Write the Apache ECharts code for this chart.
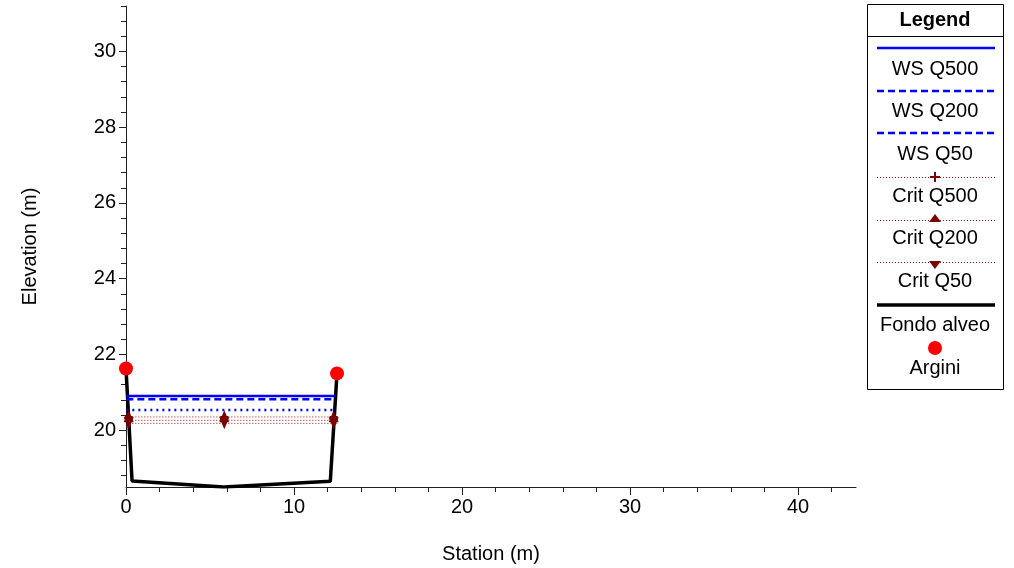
<!DOCTYPE html>
<html><head><meta charset="utf-8">
<script src="https://cdn.jsdelivr.net/npm/echarts@6/dist/echarts.min.js"></script>
<style>html,body{margin:0;padding:0;background:#fff}#c{width:1014px;height:568px}</style>
</head><body><div id="c"></div>
<script>
// ---- data ----
const fondoStation = [0, 0.36, 5.81, 12.16, 12.56];
const fondoElev    = [21.63, 18.66, 18.5, 18.65, 21.5];
const arginiStation = [0, 12.56];
const arginiElev    = [21.63, 21.5];
const wsStation = [0.02, 12.48];
const wsQ500 = 20.9;
const wsQ200 = 20.82;
const wsQ50  = 20.53;
const critStation = [0.02, 0.16, 5.85, 12.36, 12.6];
const critMarkerIdx = [1, 2, 3];
const critQ500 = 20.35;
const critQ200 = 20.26;
const critQ50  = 20.18;
const xMajorTicks = [0, 10, 20, 30, 40];
const xMinorTicks = [2, 4, 6, 8, 12, 14, 16, 18, 22, 24, 26, 28, 32, 34, 36, 38, 42];
const yMajorTicks = [20, 22, 24, 26, 28, 30];
const yMinorTicks = [18.8, 19.2, 19.6, 20.4, 20.8, 21.2, 21.6, 22.4, 22.8, 23.2, 23.6, 24.4, 24.8, 25.2, 25.6, 26.4, 26.8, 27.2, 27.6, 28.4, 28.8, 29.2, 29.6, 30.4, 30.8, 31.2];
const legendNames = ['WS Q500','WS Q200','WS Q50','Crit Q500','Crit Q200','Crit Q50','Fondo alveo','Argini'];

const chart = echarts.init(document.getElementById('c'));
const FONT = 'Liberation Sans, Arial, sans-serif';
const FS = 20;
const AX = '#222';
const xMin = 0, xMax = 43.45, yMin = 18.5, yMax = 31.2;
const PLUS = 'path://M-1,-4L1,-4L1,-1L4,-1L4,1L1,1L1,4L-1,4L-1,1L-4,1L-4,-1L-1,-1Z';
const TRI_UP = 'path://M0,-5L5,5L-5,5Z';
const TRI_DOWN = 'path://M-5,-5L5,-5L0,5Z';

function pairs(xs, ys){ return xs.map((x,i)=>[x, ys[i]]); }
function hline(xs, y){ return xs.map(x=>[x, y]); }
function critData(y, sym, size, off){
  return critStation.map((x,i)=>{
    const on = critMarkerIdx.indexOf(i) >= 0;
    return {value:[x,y], symbol: on ? sym : 'none', symbolSize: size, symbolOffset: off};
  });
}

const xBase = {type:'value', min:xMin, max:xMax, splitLine:{show:false}};
const yBase = {type:'value', min:yMin, max:yMax, splitLine:{show:false}};

function txt(name, y, bold){
  return {type:'text', x:935, y:y, z:11,
    style:{text:name, font:(bold?'bold ':'')+FS+'px '+FONT, fill:'#000', align:'center', verticalAlign:'middle'}};
}
function lline(y, stroke, w, dash){
  const s = {stroke:stroke, lineWidth:w};
  if (dash) s.lineDash = dash;
  return {type:'line', shape:{x1:877, y1:y, x2:995, y2:y}, style:s, z:11};
}

const option = {
  animation:false,
  backgroundColor:'#fff',
  grid:{left:126, right:158, top:6, bottom:81, containLabel:false, outerBoundsMode:'none'},
  xAxis:[
    Object.assign({}, xBase, {
      name:'Station (m)', nameLocation:'middle', nameGap:57,
      nameTextStyle:{color:'#000', fontSize:FS, fontFamily:FONT},
      axisLine:{show:true, onZero:false, lineStyle:{color:AX, width:1}},
      axisTick:{show:true, customValues:xMajorTicks, length:8, lineStyle:{color:AX}},
      axisLabel:{show:true, customValues:xMajorTicks, margin:10, color:'#000', fontSize:FS, fontFamily:FONT}
    }),
    Object.assign({}, xBase, {
      position:'bottom',
      axisLine:{show:false},
      axisTick:{show:true, customValues:xMinorTicks, length:5, lineStyle:{color:AX}},
      axisLabel:{show:false}
    })
  ],
  yAxis:[
    Object.assign({}, yBase, {
      name:'Elevation (m)', nameLocation:'middle', nameGap:86, nameRotate:90,
      nameTextStyle:{color:'#000', fontSize:FS, fontFamily:FONT},
      axisLine:{show:true, onZero:false, lineStyle:{color:AX, width:1}},
      axisTick:{show:true, customValues:yMajorTicks, length:7, lineStyle:{color:AX}},
      axisLabel:{show:true, customValues:yMajorTicks, margin:10, color:'#000', fontSize:FS, fontFamily:FONT}
    }),
    Object.assign({}, yBase, {
      position:'left',
      axisLine:{show:false},
      axisTick:{show:true, customValues:yMinorTicks, length:5, lineStyle:{color:AX}},
      axisLabel:{show:false}
    })
  ],
  series:[
    {name:legendNames[6], type:'line', data:pairs(fondoStation, fondoElev), symbol:'none',
     lineStyle:{color:'#000', width:3.5}, z:3},
    {name:legendNames[0], type:'line', data:hline(wsStation, wsQ500), symbol:'none',
     lineStyle:{color:'#0000ff', width:2.5, type:'solid'}, z:4},
    {name:legendNames[1], type:'line', data:hline(wsStation, wsQ200), symbol:'none',
     lineStyle:{color:'#0000ff', width:2.5, type:[7,4]}, z:4},
    {name:legendNames[2], type:'line', data:hline(wsStation, wsQ50), symbol:'none',
     lineStyle:{color:'#0000ff', width:2.5, type:[2,4]}, z:4},
    {name:legendNames[3], type:'line', data:critData(critQ500, PLUS, 8, [0,0]),
     lineStyle:{color:'#a01010', width:1, type:[1,2]}, itemStyle:{color:'#7a0000'}, z:5},
    {name:legendNames[4], type:'line', data:critData(critQ200, TRI_UP, [10,12], [0,-4]),
     lineStyle:{color:'#a01010', width:1, type:[1,2]}, itemStyle:{color:'#7a0000'}, z:5},
    {name:legendNames[5], type:'line', data:critData(critQ50, TRI_DOWN, [10,12], [0,0]),
     lineStyle:{color:'#a01010', width:1, type:[1,2]}, itemStyle:{color:'#7a0000'}, z:5},
    {name:legendNames[7], type:'scatter', data:pairs(arginiStation, arginiElev), symbol:'circle', symbolSize:14,
     itemStyle:{color:'#ff0000', opacity:1}, z:6}
  ],
  graphic:[
    {type:'rect', shape:{x:867.5, y:4.5, width:136, height:385}, style:{fill:'#fff', stroke:'#000', lineWidth:1}, z:10},
    {type:'line', shape:{x1:867.5, y1:36.5, x2:1003.5, y2:36.5}, style:{stroke:'#000', lineWidth:1}, z:11},
    txt('Legend', 20, true),
    lline(48, '#0000ff', 2.5),
    txt(legendNames[0], 69),
    lline(91, '#0000ff', 2.5, [7,4]),
    txt(legendNames[1], 111),
    lline(133, '#0000ff', 2.5, [7,4]),
    txt(legendNames[2], 154),
    lline(177.5, '#a01010', 1, [1,2]),
    {type:'polygon', shape:{points:[[934,172],[936,172],[936,176],[940,176],[940,178],[936,178],[936,182],[934,182],[934,178],[930,178],[930,176],[934,176]]}, style:{fill:'#7a0000'}, z:12},
    txt(legendNames[3], 196),
    lline(220.5, '#a01010', 1, [1,2]),
    {type:'polygon', shape:{points:[[935,214],[941,222],[929,222]]}, style:{fill:'#7a0000'}, z:12},
    txt(legendNames[4], 238),
    lline(262.5, '#a01010', 1, [1,2]),
    {type:'polygon', shape:{points:[[929,261],[941,261],[935,269]]}, style:{fill:'#7a0000'}, z:12},
    txt(legendNames[5], 281),
    lline(305, '#000', 3.5),
    txt(legendNames[6], 325),
    {type:'circle', shape:{cx:935, cy:348, r:7}, style:{fill:'#ff0000'}, z:11},
    txt(legendNames[7], 368)
  ]
};
chart.setOption(option);
</script>
</body></html>
